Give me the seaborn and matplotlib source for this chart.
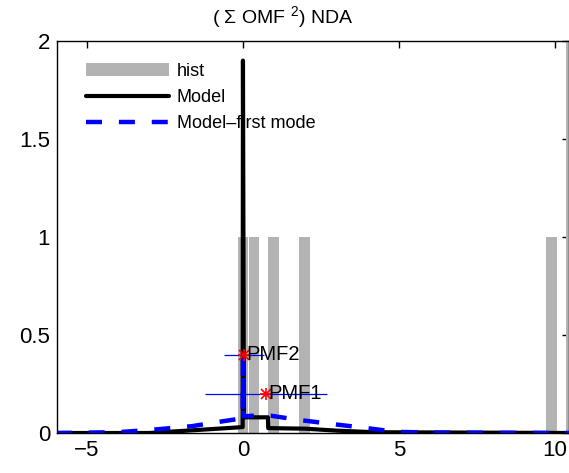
import numpy as np
import pandas as pd
import matplotlib
matplotlib.use("Agg")
import matplotlib.pyplot as plt
import seaborn as sns
from matplotlib.patches import Patch
from matplotlib.lines import Line2D

# ---- data ----
hist_x = [0.0, 0.35, 0.98, 1.97, 9.89, 10.52]
hist_h = [1.0, 1.0, 1.0, 1.0, 1.0, 2.5]
hist_w = 0.34

model_x = [-6.0, -3.0, -1.5, -0.01, 0.0, 0.03, 0.8, 0.81, 2.0, 3.0, 4.2, 10.5]
model_y = [0.0, 0.0, 0.015, 0.03, 1.9, 0.08, 0.08, 0.025, 0.022, 0.012, 0.004, 0.0]

first_x = [-6.0, -4.0, -2.66, -1.63, -0.64, -0.01, 0.0, 0.01, 0.5, 0.9, 1.83, 2.9, 3.97, 4.9, 6.0, 10.5]
first_y = [0.0, 0.004, 0.02, 0.035, 0.06, 0.075, 0.37, 0.085, 0.09, 0.088, 0.066, 0.045, 0.025, 0.006, 0.002, 0.0]

pmf_names = ["PMF1", "PMF2"]
pmf_x = [0.74, 0.03]
pmf_y = [0.20, 0.40]
pmf_err = [1.96, 0.65]

title_text = "( Σ OMF $^{2}$) NDA"
xticks = [-5, 0, 5, 10]
yticks = [0, 0.5, 1, 1.5, 2]
ytick_labels = ["0", "0.5", "1", "1.5", "2"]

sns.set_style("white")
plt.rcParams["font.family"] = ["Liberation Sans", "DejaVu Sans"]
plt.rcParams["mathtext.fontset"] = "custom"
plt.rcParams["mathtext.rm"] = "Liberation Sans"
plt.rcParams["mathtext.it"] = "Liberation Sans"
plt.rcParams["text.color"] = "black"
plt.rcParams["axes.labelcolor"] = "black"
plt.rcParams["xtick.color"] = "black"
plt.rcParams["ytick.color"] = "black"

W, H = 569, 473
fig = plt.figure(figsize=(W / 100, H / 100), dpi=100)
ax = fig.add_axes([57 / W, 1 - 433 / H, (569 - 57) / W, (433 - 41) / H])

ax.bar(hist_x, hist_h, width=hist_w, color="#b3b3b3", linewidth=0, zorder=1)

df_model = pd.DataFrame({"x": model_x, "y": model_y})
df_first = pd.DataFrame({"x": first_x, "y": first_y})
sns.lineplot(data=df_model, x="x", y="y", ax=ax, color="black", lw=3.0,
             sort=False, estimator=None, zorder=3)
sns.lineplot(data=df_first, x="x", y="y", ax=ax, color="blue", lw=3.2,
             sort=False, estimator=None, zorder=4, dashes=False)
ax.lines[-1].set_dashes((3.6, 3.8))

for name, px, py, pe in zip(pmf_names, pmf_x, pmf_y, pmf_err):
    ax.errorbar([px], [py], xerr=[pe], fmt="none", ecolor="blue", elinewidth=0.9,
                capsize=0, zorder=5)
    for mk in ["+", "x"]:
        ax.plot([px], [py], marker=mk, color="red", markersize=9 if mk == "+" else 7,
                mew=1.2, linestyle="none", zorder=6)
    ax.text(px + 0.07, py, name, fontsize=14.5, va="center", ha="left",
            color="black", zorder=7)

ax.set_xlim(-5.96, 10.45)
ax.set_ylim(0, 2)
ax.set_xticks(xticks)
ax.set_yticks(yticks)
ax.set_yticklabels(ytick_labels)
ax.set_xlabel("")
ax.set_ylabel("")
ax.tick_params(direction="in", length=5, width=1, labelsize=16, top=True,
               right=True, colors="black", labelcolor="black", pad=5)
for s in ax.spines.values():
    s.set_color("black")
    s.set_linewidth(1.0)

handles = [Patch(facecolor="#b3b3b3", edgecolor="none"),
           Line2D([], [], color="black", lw=3.0),
           Line2D([], [], color="blue", lw=3.2, dashes=(3.6, 3.8))]
leg = ax.legend(handles, ["hist", "Model", "Model\u2013first mode"], loc="upper left",
                bbox_to_anchor=(0.042, 0.962), frameon=False, fontsize=13,
                handlelength=4.6, handletextpad=0.45, labelspacing=0.5, borderaxespad=0)
for t in leg.get_texts():
    t.set_color("black")

fig.text(283 / W, 1 - 17 / H, title_text, ha="center", va="center", fontsize=14,
         color="black")

fig.savefig("out.png", dpi=100, facecolor="white")
